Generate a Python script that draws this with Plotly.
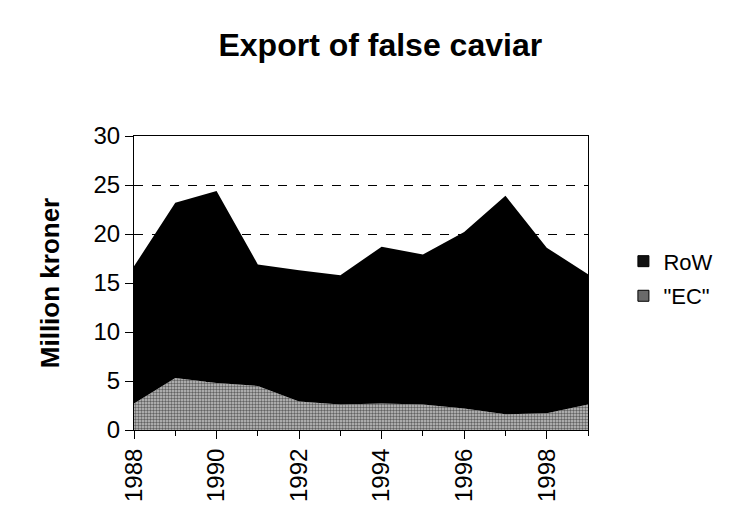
import plotly.graph_objects as go

# Export of false caviar, million kroner, by destination
years = [1988, 1989, 1990, 1991, 1992, 1993, 1994, 1995, 1996, 1997, 1998, 1999]
ec = [2.7, 5.3, 4.8, 4.5, 2.9, 2.6, 2.7, 2.6, 2.2, 1.6, 1.7, 2.6]
row = [14.0, 17.9, 19.6, 12.4, 13.4, 13.2, 16.0, 15.3, 18.0, 22.3, 16.9, 13.3]
year_ticks = [1988, 1990, 1992, 1994, 1996, 1998]
y_ticks = [0, 5, 10, 15, 20, 25, 30]

FONT = "Liberation Sans, Arial, sans-serif"

fig = go.Figure()
# stacked areas
fig.add_trace(go.Scatter(
    x=years, y=ec, name='"EC"', stackgroup="exports", mode="none",
    legendgroup="ec", showlegend=False,
    fillcolor="#9a9a9a",
    fillpattern=dict(shape=".", fgcolor="#000000", bgcolor="#c4c4c4",
                     size=3, solidity=0.5),
))
fig.add_trace(go.Scatter(
    x=years, y=row, name="RoW", stackgroup="exports", mode="none",
    legendgroup="row", showlegend=False,
    fillcolor="#000000",
))
# square legend keys
fig.add_trace(go.Scatter(
    x=[None], y=[None], name="RoW", mode="markers", legendgroup="row",
    marker=dict(symbol="square", size=11, color="#111111",
                line=dict(color="black", width=1)),
))
fig.add_trace(go.Scatter(
    x=[None], y=[None], name='"EC"', mode="markers", legendgroup="ec",
    marker=dict(symbol="square", size=11, color="#6a6a6a",
                line=dict(color="black", width=1)),
))

fig.update_layout(
    width=737, height=530,
    margin=dict(l=134, r=149, t=136, b=100),
    paper_bgcolor="white", plot_bgcolor="white",
    font=dict(family=FONT, size=24, color="black"),
    title=dict(text="<b>Export of false caviar</b>", font=dict(size=32),
               xref="container", x=0.516, xanchor="center",
               yref="container", y=0.915, yanchor="middle"),
    legend=dict(x=1.078, y=0.645, xanchor="left", yanchor="top",
                font=dict(size=22), bgcolor="rgba(0,0,0,0)",
                itemwidth=30, tracegroupgap=3),
    showlegend=True,
)
fig.update_xaxes(
    range=[1988, 1999], tickvals=year_ticks, tickangle=-90,
    ticks="outside", ticklen=8, tickcolor="black",
    minor=dict(dtick=1, ticks="outside", ticklen=5, tickcolor="black"),
    showline=True, linecolor="black", linewidth=1, mirror=True,
    showgrid=False, zeroline=False,
)
fig.update_yaxes(
    range=[0, 30], tickvals=y_ticks,
    ticks="outside", ticklen=8, tickcolor="black",
    showline=True, linecolor="black", linewidth=1, mirror=True,
    showgrid=True, gridcolor="black", gridwidth=1, griddash="dash",
    zeroline=False,
    title=dict(text="<b>Million kroner</b>", font=dict(size=26), standoff=26),
)

fig.write_html("out.html")
